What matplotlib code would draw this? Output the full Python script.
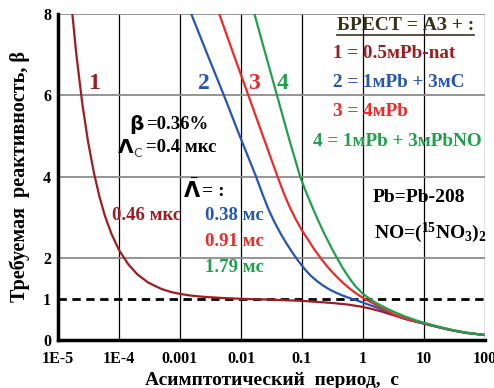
import matplotlib
matplotlib.use("Agg")
import matplotlib.pyplot as plt

# данные: асимптотический период (с) и реактивность (в долях beta)
t1 = [1.65e-5, 2.0e-5, 2.5e-5, 3.1e-5, 3.9e-5, 4.8e-5, 5.9e-5, 7.5e-5, 1.0e-4, 1.4e-4,
      2.0e-4, 3.0e-4, 5.0e-4, 7.0e-4, 1.0e-3, 1.5e-3, 2.0e-3, 3.0e-3, 5.0e-3, 0.01,
      0.03, 0.1, 0.3, 0.56, 1, 1.4, 2, 3.4, 5, 7, 10, 20, 30, 50, 100]
r1 = [8.27, 7.0, 5.8, 4.87, 4.08, 3.5, 3.03, 2.6, 2.2, 1.86,
      1.6, 1.4, 1.24, 1.17, 1.12, 1.08, 1.06, 1.04, 1.02, 1.0,
      0.98, 0.95, 0.9, 0.86, 0.8, 0.75, 0.69, 0.58, 0.50, 0.445, 0.39, 0.28, 0.22, 0.16, 0.11]

t2 = [1.53e-3, 2.82e-3, 5.25e-3, 9.55e-3, 0.0177, 0.0224, 0.0282, 0.0355, 0.0447, 0.0562,
      0.0708, 0.0891, 0.112, 0.141, 0.178, 0.224, 0.282, 0.355, 0.447, 0.562,
      0.708, 0.891, 1.12, 1.41, 2.0, 3.39, 5.0, 10, 20, 30, 50, 100]
r2 = [8.0, 7.0, 6.0, 5.0, 4.0, 3.58, 3.20, 2.88, 2.60, 2.35,
      2.12, 1.91, 1.72, 1.56, 1.43, 1.32, 1.23, 1.155, 1.09, 1.035,
      0.985, 0.935, 0.88, 0.825, 0.745, 0.60, 0.51, 0.39, 0.28, 0.22, 0.16, 0.11]

t3 = [4.4e-3, 7.59e-3, 0.0132, 0.0229, 0.0398, 0.0501, 0.0631, 0.0794, 0.1, 0.126,
      0.158, 0.2, 0.251, 0.316, 0.398, 0.501, 0.631, 0.794, 1.0, 1.41,
      2.0, 3.39, 5.0, 10, 20, 30, 50, 100]
r3 = [8.0, 7.0, 6.0, 5.0, 4.0, 3.6, 3.25, 2.95, 2.68, 2.45,
      2.22, 2.01, 1.82, 1.65, 1.495, 1.355, 1.23, 1.12, 1.02, 0.9,
      0.78, 0.6, 0.51, 0.40, 0.285, 0.225, 0.165, 0.11]

t4 = [0.0166, 0.0254, 0.0389, 0.0596, 0.0933, 0.1175, 0.148, 0.186, 0.234, 0.295,
      0.372, 0.468, 0.589, 0.741, 1.0, 1.26, 1.58, 2.0, 2.51, 3.39,
      5.0, 7.08, 10, 20, 30, 50, 100]
r4 = [8.0, 7.0, 6.0, 5.0, 4.0, 3.61, 3.25, 2.91, 2.59, 2.29,
      2.01, 1.75, 1.52, 1.32, 1.12, 1.01, 0.91, 0.83, 0.755, 0.665,
      0.56, 0.48, 0.41, 0.29, 0.23, 0.17, 0.11]

xticks = [1e-5, 1e-4, 1e-3, 1e-2, 0.1, 1, 10, 100]
xtick_labels = ["1E-5", "1E-4", "0.001", "0.01", "0.1", "1", "10", "100"]
yticks = [0, 1, 2, 4, 6, 8]

c1, c2, c3, c4 = "#9e1c22", "#2456b2", "#ec2a2a", "#20a04c"
olive = "#33331a"

plt.rcParams["font.family"] = ["Liberation Serif", "DejaVu Sans"]
plt.rcParams["font.weight"] = "bold"
plt.rcParams["mathtext.fontset"] = "custom"
plt.rcParams["mathtext.rm"] = "Liberation Serif:bold"
plt.rcParams["mathtext.bf"] = "Liberation Serif:bold"
plt.rcParams["mathtext.it"] = "Liberation Serif:bold"
plt.rcParams["mathtext.sf"] = "DejaVu Sans:bold"

fig = plt.figure(figsize=(4.94, 3.88), dpi=100)
ax = fig.add_axes([58 / 494, 1 - 339.5 / 388, 427 / 494, 325.5 / 388])

ax.set_xscale("log")
ax.set_xlim(1e-5, 100)
ax.set_ylim(0, 8)

# сетка
for x in xticks[1:]:
    ax.axvline(x, color="black", lw=0.9, zorder=1)
for y in [2, 4, 6, 8]:
    ax.axhline(y, color="#8c8c8c", lw=1.3, zorder=1)
ax.axhline(1, color="black", lw=2, ls=(0, (3, 2)), zorder=2)

ax.plot(t1, r1, color=c1, lw=1.6, zorder=3)
ax.plot(t2, r2, color=c2, lw=1.6, zorder=3)
ax.plot(t3, r3, color=c3, lw=1.6, zorder=3)
ax.plot(t4, r4, color=c4, lw=1.6, zorder=3)

for s in ["top", "right"]:
    ax.spines[s].set_visible(False)
ax.spines["left"].set_linewidth(2.5)
ax.spines["bottom"].set_linewidth(2.5)

ax.set_xticks(xticks)
ax.set_xticklabels(xtick_labels)
ax.minorticks_off()
ax.set_yticks(yticks)
ax.tick_params(length=0, labelsize=11.5)
ax.tick_params(axis="x", pad=8)
ax.tick_params(axis="y", pad=5)
for lab in ax.get_xticklabels() + ax.get_yticklabels():
    lab.set_fontweight("bold")

ax.set_xlabel("Асимптотический  период,  с", fontsize=14, fontweight="bold", labelpad=4)
ax.set_ylabel("Требуемая  реактивность, β", fontsize=14.5, fontweight="bold", labelpad=9)

tr = ax.transAxes
# номера кривых
ax.text(0.084, 0.788, "1", color=c1, fontsize=17, transform=tr, ha="center", va="center")
ax.text(0.342, 0.788, "2", color=c2, fontsize=17, transform=tr, ha="center", va="center")
ax.text(0.459, 0.788, "3", color=c3, fontsize=17, transform=tr, ha="center", va="center")
ax.text(0.527, 0.788, "4", color=c4, fontsize=17, transform=tr, ha="center", va="center")

# параметры
ax.text(0.183, 0.662, "β", family="DejaVu Sans", fontsize=14.5, transform=tr, ha="center", va="center")
ax.text(0.206, 0.662, "=0.36%", fontsize=13.5, transform=tr, ha="left", va="center")
ax.text(0.158, 0.591, "Λ", family="DejaVu Sans", fontsize=14.5, transform=tr, ha="center", va="center")
ax.text(0.176, 0.572, "C", family="DejaVu Sans", fontweight="normal", color="#444444",
        fontsize=9, transform=tr, ha="left", va="center")
ax.text(0.206, 0.591, "=0.4 мкс", fontsize=13.5, transform=tr, ha="left", va="center")
ax.text(0.315, 0.456, r"$\bar{\mathsf{\Lambda}}$", fontsize=15, transform=tr, ha="center", va="center")
ax.text(0.337, 0.456, "= :", fontsize=14, transform=tr, ha="left", va="center")

ax.text(0.126, 0.380, "0.46 мкс", color=c1, fontsize=13.5, transform=tr, ha="left", va="center")
ax.text(0.344, 0.380, "0.38 мс", color=c2, fontsize=13.5, transform=tr, ha="left", va="center")
ax.text(0.344, 0.300, "0.91 мс", color=c3, fontsize=13.5, transform=tr, ha="left", va="center")
ax.text(0.344, 0.220, "1.79 мс", color=c4, fontsize=13.5, transform=tr, ha="left", va="center")

# легенда справа
ax.text(0.653, 0.966, "БРЕСТ = АЗ + :", color=olive, fontsize=14, transform=tr, ha="left", va="center")
ax.plot([0.653, 0.974], [0.937, 0.937], color=olive, lw=1.2, transform=tr, clip_on=False)
ax.text(0.644, 0.880, "1 = 0.5мPb-nat", color=c1, fontsize=13.8, transform=tr, ha="left", va="center")
ax.text(0.644, 0.791, "2 = 1мPb + 3мC", color=c2, fontsize=13.8, transform=tr, ha="left", va="center")
ax.text(0.644, 0.699, "3 = 4мPb", color=c3, fontsize=13.8, transform=tr, ha="left", va="center")
ax.text(0.597, 0.607, "4 = 1мPb + 3мPbNO", color=c4, fontsize=13.8, transform=tr, ha="left", va="center")

ax.text(0.738, 0.435, "Pb=Pb-208", fontsize=14, transform=tr, ha="left", va="center")
ax.text(0.740, 0.327, r"NO=($^{15}$NO$_{3}$)$_{2}$", fontsize=14, transform=tr, ha="left", va="center")

fig.savefig("out.png", dpi=100)
